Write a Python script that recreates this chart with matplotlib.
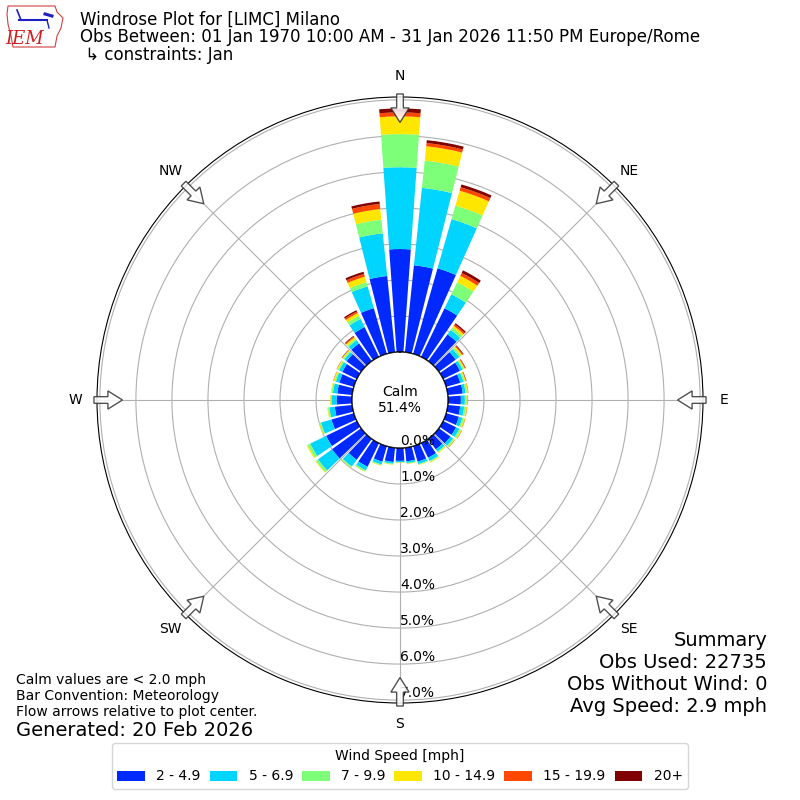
import numpy as np
import matplotlib
matplotlib.use("Agg")
import matplotlib.pyplot as plt
from matplotlib.patches import Circle, FancyArrow, Polygon

# direction bins (degrees, meteorological) and speed classes
directions = np.arange(0, 360, 10)
speed_labels = ["2 - 4.9", "5 - 6.9", "7 - 9.9", "10 - 14.9", "15 - 19.9", "20+"]

# percent frequency per direction for each speed class
spd_2_5 = [2.86, 2.43, 2.47, 1.50, 0.92, 0.58, 0.52, 0.41, 0.42, 0.36, 0.35, 0.37,
           0.40, 0.40, 0.36, 0.45, 0.45, 0.38, 0.36, 0.40, 0.45, 0.73, 0.72, 1.00,
           0.95, 0.65, 0.49, 0.43, 0.42, 0.42, 0.45, 0.50, 0.61, 0.92, 1.32, 2.13]
spd_5_7 = [2.27, 2.16, 1.42, 0.43, 0.15, 0.12, 0.08, 0.09, 0.08, 0.11, 0.11, 0.10,
           0.10, 0.09, 0.08, 0.10, 0.07, 0.05, 0.04, 0.05, 0.08, 0.11, 0.23, 0.48,
           0.49, 0.30, 0.15, 0.13, 0.12, 0.10, 0.10, 0.08, 0.11, 0.25, 0.63, 1.19]
spd_7_10 = [0.92, 0.76, 0.39, 0.37, 0.08, 0.06, 0.04, 0.04, 0.04, 0.05, 0.05, 0.05,
            0.05, 0.04, 0.03, 0.03, 0.02, 0.02, 0.01, 0.02, 0.03, 0.04, 0.03, 0.07,
            0.08, 0.04, 0.04, 0.03, 0.04, 0.04, 0.04, 0.04, 0.05, 0.10, 0.12, 0.38]
spd_10_15 = [0.49, 0.40, 0.43, 0.20, 0.06, 0.04, 0.03, 0.03, 0.03, 0.03, 0.03, 0.03,
             0.03, 0.02, 0.02, 0.02, 0.01, 0.01, 0.01, 0.01, 0.01, 0.01, 0.01, 0.02,
             0.03, 0.02, 0.02, 0.02, 0.02, 0.03, 0.03, 0.03, 0.05, 0.08, 0.16, 0.30]
spd_15_20 = [0.11, 0.09, 0.10, 0.09, 0.05, 0.03, 0.02, 0.01, 0.01, 0.01, 0.01, 0.01,
             0.01, 0.01, 0.00, 0.00, 0.00, 0.00, 0.00, 0.00, 0.00, 0.00, 0.00, 0.00,
             0.00, 0.00, 0.00, 0.00, 0.00, 0.01, 0.01, 0.01, 0.03, 0.05, 0.08, 0.14]
spd_20p = [0.11, 0.08, 0.08, 0.08, 0.04, 0.02, 0.01, 0.01, 0.00, 0.00, 0.00, 0.00,
           0.00, 0.00, 0.00, 0.00, 0.00, 0.00, 0.00, 0.00, 0.00, 0.00, 0.00, 0.00,
           0.00, 0.00, 0.00, 0.00, 0.00, 0.00, 0.00, 0.01, 0.02, 0.04, 0.06, 0.07]
series = [spd_2_5, spd_5_7, spd_7_10, spd_10_15, spd_15_20, spd_20p]

calm_pct = 51.4
rticks = [0, 1, 2, 3, 4, 5, 6, 7]
compass = ["N", "NE", "E", "SE", "S", "SW", "W", "NW"]

colors = plt.cm.jet(np.arange(1, 7) / 6.0)

fig = plt.figure(figsize=(8, 8), dpi=100)
ax = fig.add_axes([97 / 800, 97 / 800, 606 / 800, 606 / 800], polar=True)
ax.set_theta_zero_location("N")
ax.set_theta_direction(-1)

theta = np.radians(directions)
width = np.radians(8.2)
bottom = np.zeros(len(directions))
for vals, col, lab in zip(series, colors, speed_labels):
    vals = np.array(vals)
    ax.bar(theta, vals, width=width, bottom=bottom, color=col, label=lab,
           linewidth=0, zorder=2)
    bottom = bottom + vals

ax.set_ylim(0, 7.08)
ax.set_rorigin(-1.33)
ax.set_yticks(rticks)
ax.set_yticklabels([])
ax.set_xticks(np.radians(np.arange(0, 360, 45)))
ax.set_xticklabels([])
ax.grid(True, color="#b0b0b0", linewidth=0.8, zorder=1)
ax.set_axisbelow(True)

# radial labels along the south line
for r in rticks:
    ax.text(np.pi, r, "%.1f%%" % r, ha="left", va="bottom", fontsize=10, zorder=5)

# calm circle
calm_r = 48 / 606
ax.add_patch(Circle((0.5, 0.5), calm_r, transform=ax.transAxes, facecolor="white",
                    edgecolor="black", linewidth=1, zorder=4))
ax.text(0.5, 0.5, "Calm\n%.1f%%" % calm_pct, transform=ax.transAxes, ha="center",
        va="center", fontsize=10, zorder=6)

# compass labels and flow arrows
for i, lab in enumerate(compass):
    ang = np.radians(i * 45)
    s, c = np.sin(ang), np.cos(ang)
    ax.text(0.5 + 0.5 * 1.07 * s, 0.5 + 0.5 * 1.07 * c, lab, transform=ax.transAxes,
            ha="center", va="center", fontsize=10)
    r0 = 0.5 * 1.01
    length = 0.047
    arr = FancyArrow(0.5 + r0 * s, 0.5 + r0 * c, -length * s, -length * c,
                     width=0.011, head_width=0.03, head_length=0.024,
                     length_includes_head=True, transform=ax.transAxes,
                     facecolor="white", edgecolor="#333333", linewidth=1,
                     alpha=0.85, zorder=7, clip_on=False)
    ax.add_patch(arr)

# header
fig.text(0.1, 0.975, "Windrose Plot for [LIMC] Milano", fontsize=12, va="center")
fig.text(0.1, 0.954, "Obs Between: 01 Jan 1970 10:00 AM - 31 Jan 2026 11:50 PM Europe/Rome",
         fontsize=12, va="center")
fig.text(0.1, 0.931, " \u21b3 constraints: Jan", fontsize=12, va="center")

# logo
lax = fig.add_axes([5 / 800, 1 - 50 / 800, 62 / 800, 46 / 800])
lax.set_xlim(0, 62)
lax.set_ylim(0, 46)
lax.axis("off")
lax.add_patch(Polygon([[3, 44], [50, 44], [52, 38], [58, 32], [56, 22], [52, 14],
                       [50, 3], [8, 3], [6, 14], [3, 26], [2, 36]],
                      closed=True, facecolor="white", edgecolor="#d04040", linewidth=0.8))
lax.plot([14, 42], [30, 30], color="#2020c0", linewidth=1.5)
lax.plot([12, 16], [40, 30], color="#2020c0", linewidth=1.2)
lax.plot([40, 47], [36, 34], color="#2020c0", linewidth=2.2)
lax.plot([42, 44], [30, 22], color="#2020c0", linewidth=1.0)
lax.text(20, 11, "IEM", color="#d02020", fontsize=13, family="DejaVu Serif",
         style="italic", ha="center", va="center")

# summary
fig.text(0.959, 0.2, "Summary", fontsize=14, ha="right", va="center")
fig.text(0.959, 0.1725, "Obs Used: 22735", fontsize=14, ha="right", va="center")
fig.text(0.959, 0.145, "Obs Without Wind: 0", fontsize=14, ha="right", va="center")
fig.text(0.959, 0.1175, "Avg Speed: 2.9 mph", fontsize=14, ha="right", va="center")

fig.text(0.02, 0.15, "Calm values are < 2.0 mph", fontsize=10, va="center")
fig.text(0.02, 0.13, "Bar Convention: Meteorology", fontsize=10, va="center")
fig.text(0.02, 0.11, "Flow arrows relative to plot center.", fontsize=10, va="center")
fig.text(0.02, 0.0875, "Generated: 20 Feb 2026", fontsize=14, va="center")

handles, labels = ax.get_legend_handles_labels()
fig.legend(handles, labels, loc="lower center", bbox_to_anchor=(0.5, 0.005), ncol=6,
           title="Wind Speed [mph]", fontsize=10, title_fontsize=10, columnspacing=0.65)

fig.savefig("out.png", dpi=100)
